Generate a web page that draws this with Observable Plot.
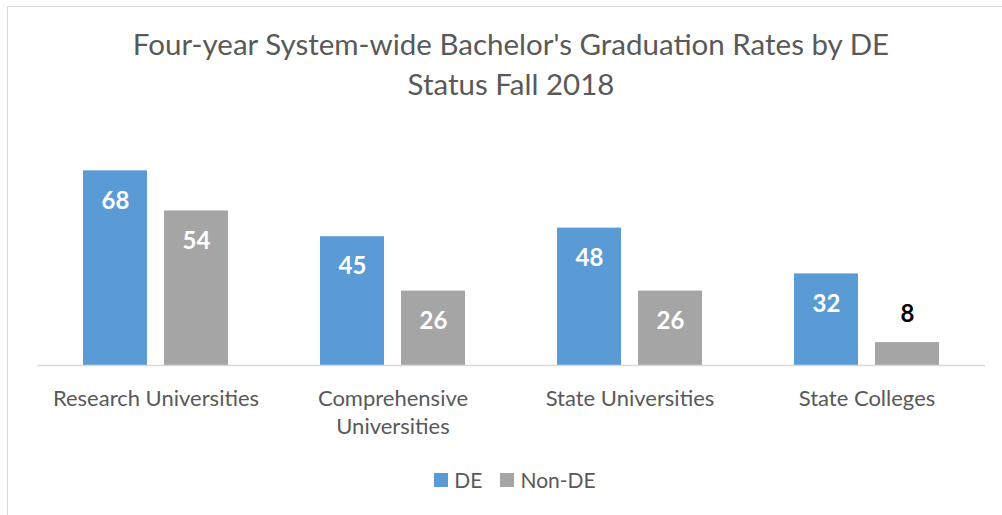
<!DOCTYPE html>
<html>
<head>
<meta charset="utf-8">
<script src="https://cdn.jsdelivr.net/npm/d3@7"></script>
<script src="https://cdn.jsdelivr.net/npm/@observablehq/plot@0.6"></script>
<style>
  html, body { margin: 0; padding: 0; background: #fff; }
  #chart {
    position: relative; width: 1002px; height: 515px; overflow: hidden;
    font-family: Lato, "Open Sans", sans-serif; color: #595959;
  }
  #frame {
    position: absolute; left: 7px; top: 6px; width: 1100px; height: 600px;
    border: 1px solid #d9d9d9; box-sizing: border-box;
  }
  #title {
    position: relative; padding-top: 24px; text-align: center;
    font-size: 29.5px; line-height: 40px; padding-left: 20px;
  }
  #plot svg { display: block; }
  #legend {
    position: absolute; top: 466px; left: 0; width: 1002px;
    display: flex; justify-content: center; align-items: center;
    font-size: 21px; line-height: 28px; padding-left: 28px; box-sizing: border-box;
  }
  .item { display: flex; align-items: center; margin: 0 9px; }
  .swatch { width: 14px; height: 14px; margin-right: 6px; }
</style>
</head>
<body>
<div id="chart">
  <div id="frame"></div>
  <div id="title">Four-year System-wide Bachelor's Graduation Rates by DE<br>Status Fall 2018</div>
  <div id="plot"></div>
  <div id="legend"></div>
</div>
<script>
// Institution groups and their axis labels
const categories = ["Research Universities", "Comprehensive Universities", "State Universities", "State Colleges"];
const categoryLabels = ["Research Universities", "Comprehensive\nUniversities", "State Universities", "State Colleges"];
const series = ["DE", "Non-DE"];
const colors = ["#5B9BD5", "#A5A5A5"];

// Four-year graduation rates (%)
const deRates = [68, 45, 48, 32];
const nonDeRates = [54, 26, 26, 8];

const rows = categories.flatMap((c, i) => [
  {category: c, status: "DE", value: deRates[i]},
  {category: c, status: "Non-DE", value: nonDeRates[i]}
]);

// Labels sit inside a bar when it is tall enough, otherwise just above it
const fitsInside = d => d.value >= 15;

const labelOf = new Map(categories.map((c, i) => [c, categoryLabels[i]]));

const chart = Plot.plot({
  width: 1002,
  height: 345,
  marginLeft: 37,
  marginRight: 17,
  marginTop: 32,
  marginBottom: 84,
  style: {fontFamily: "Lato, 'Open Sans', sans-serif", color: "#595959", background: "transparent", overflow: "visible"},
  fx: {domain: categories, padding: 0, label: null},
  x: {domain: series, paddingInner: 0.207, paddingOuter: 0.549, axis: null},
  y: {domain: [0, 80], axis: null},
  color: {domain: series, range: colors},
  marks: [
    Plot.barY(rows, {fx: "category", x: "status", y: "value", fill: "status"}),
    Plot.ruleY([0], {stroke: "#d9d9d9", strokeWidth: 1.3}),
    Plot.text(rows.filter(fitsInside), {
      fx: "category", x: "status", y: "value", text: d => String(d.value),
      dy: 30, fill: "white", fontWeight: "bold", fontSize: 24
    }),
    Plot.text(rows.filter(d => !fitsInside(d)), {
      fx: "category", x: "status", y: "value", text: d => String(d.value),
      dy: -28, fill: "black", fontWeight: "bold", fontSize: 24
    }),
    Plot.axisFx({
      anchor: "bottom", tickSize: 0, tickPadding: 20, fontSize: 22,
      lineHeight: 1.3, fill: "#595959", label: null,
      tickFormat: c => labelOf.get(c)
    })
  ]
});
document.getElementById("plot").appendChild(chart);

// Legend below the plot
const legend = document.getElementById("legend");
series.forEach((s, i) => {
  const item = document.createElement("div");
  item.className = "item";
  const sw = document.createElement("span");
  sw.className = "swatch";
  sw.style.background = colors[i];
  const label = document.createElement("span");
  label.textContent = s;
  item.append(sw, label);
  legend.appendChild(item);
});
</script>
</body>
</html>
